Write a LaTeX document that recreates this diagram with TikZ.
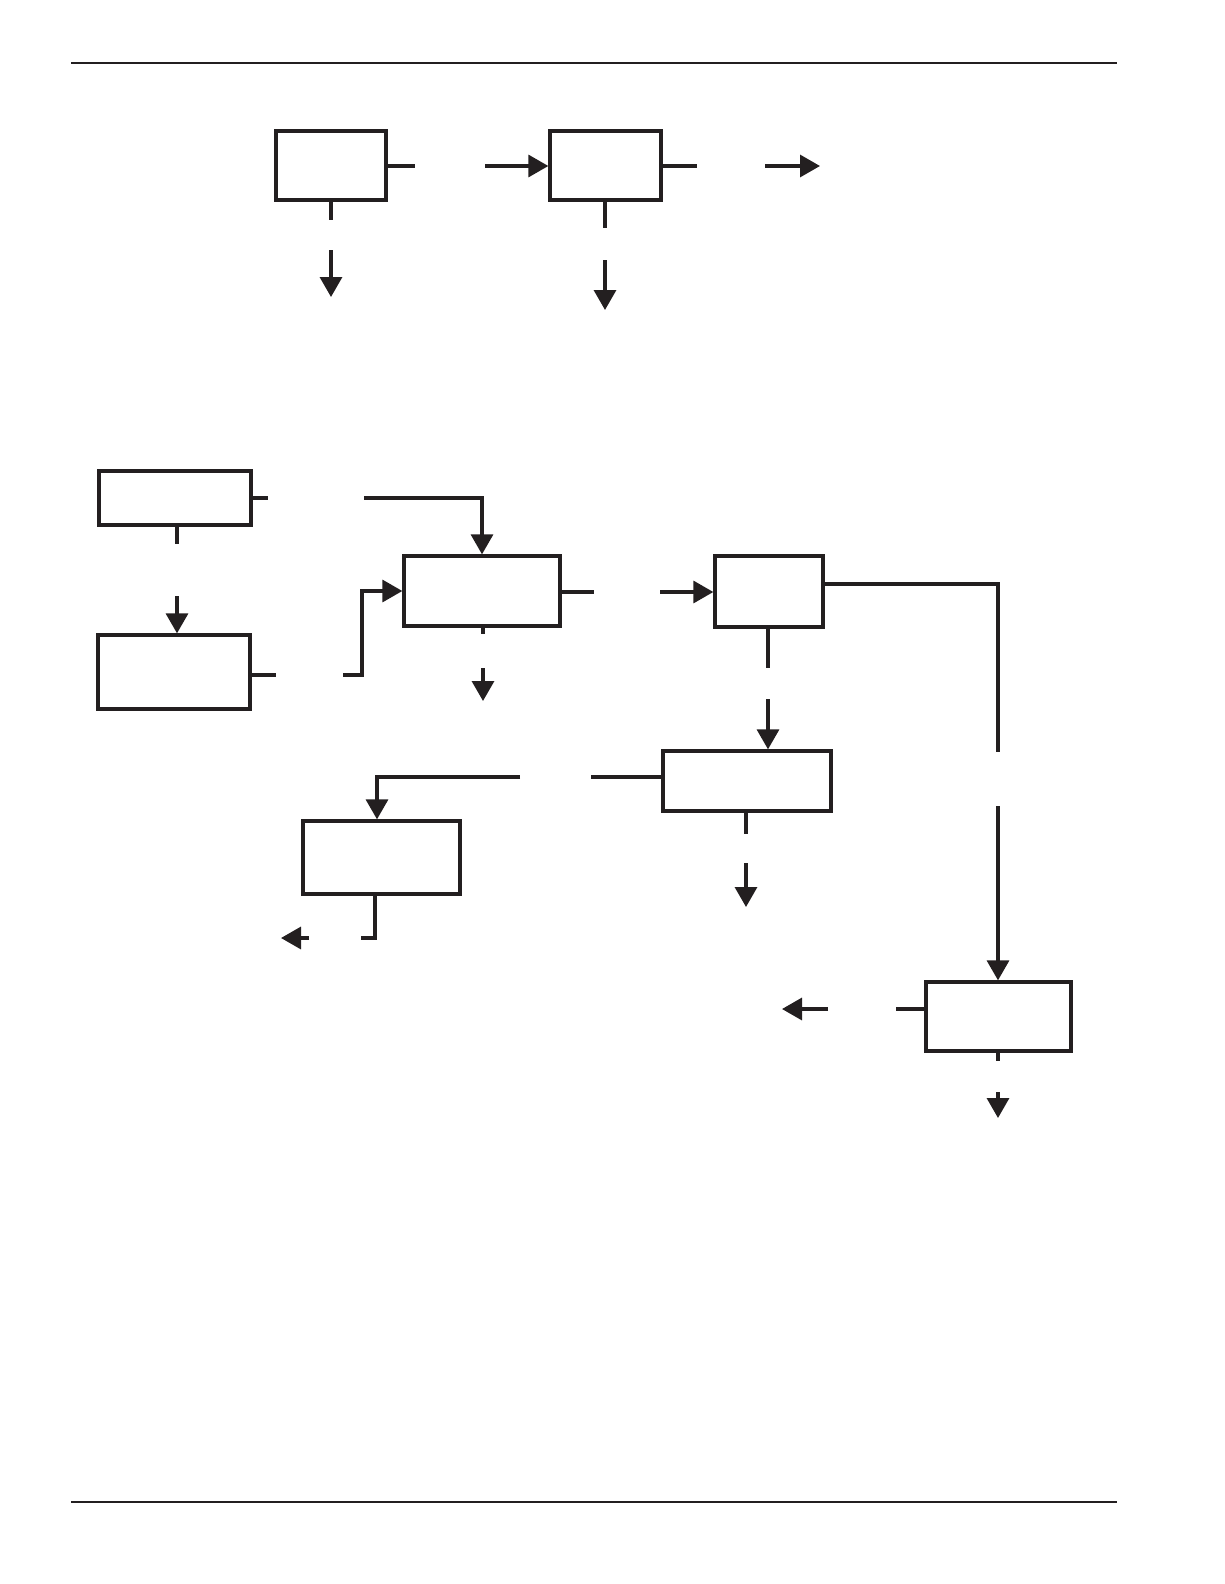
\documentclass[tikz,border=0pt]{standalone}
\usetikzlibrary{arrows.meta}
\definecolor{ink}{RGB}{35,31,32}
\begin{document}
\begin{tikzpicture}[x=1pt,y=-1pt,
  box/.style={draw=ink,line width=3.3pt,rectangle,inner sep=0pt},
  ln/.style={draw=ink,line width=3.3pt},
  arr/.style={draw=ink,line width=3.3pt,-{Triangle[length=20pt,width=22pt]}},
  rule/.style={draw=ink,line width=2pt}]
\useasboundingbox (0,0) rectangle (1224,1584);
% page rules
\coordinate (r1a) at (71,62.6); \coordinate (r1b) at (1117,62.6);
\coordinate (r2a) at (71,1502); \coordinate (r2b) at (1117,1502);
\draw[rule] (r1a) -- (r1b);
\draw[rule] (r2a) -- (r2b);
% boxes
\node[box,minimum width=110pt,minimum height=69pt] (A) at (331,165.5) {};
\node[box,minimum width=111pt,minimum height=69pt] (B) at (605.5,165.5) {};
\node[box,minimum width=152pt,minimum height=54pt] (C) at (175,498) {};
\node[box,minimum width=152pt,minimum height=74pt] (E) at (174,672) {};
\node[box,minimum width=156pt,minimum height=70pt] (D) at (482,591) {};
\node[box,minimum width=108pt,minimum height=71pt] (F) at (769,591.5) {};
\node[box,minimum width=168pt,minimum height=60pt] (G) at (747,781) {};
\node[box,minimum width=157pt,minimum height=73pt] (H) at (381.5,857.5) {};
\node[box,minimum width=145pt,minimum height=69pt] (I) at (998.5,1016.5) {};
% free ends
\coordinate (a1) at (415,166); \coordinate (a2) at (485,166);
\coordinate (a3) at (331,220); \coordinate (a4) at (331,250); \coordinate (a5) at (331,297);
\coordinate (b1) at (697,166); \coordinate (b2) at (765,166); \coordinate (b3) at (820,166);
\coordinate (b4) at (605,228); \coordinate (b5) at (605,260); \coordinate (b6) at (605,310);
\coordinate (c1) at (268,498); \coordinate (c2) at (364,498);
\coordinate (c3) at (177,544); \coordinate (c4) at (177,596);
\coordinate (e1) at (276,675); \coordinate (e2) at (343,675);
\coordinate (d1) at (594,592); \coordinate (d2) at (660,592);
\coordinate (d3) at (483,634); \coordinate (d4) at (483,668); \coordinate (d5) at (483,701);
\coordinate (f0) at (998,584);
\coordinate (f1) at (998,752); \coordinate (f2) at (998,806);
\coordinate (f3) at (768,668); \coordinate (f4) at (768,699);
\coordinate (g1) at (591,777); \coordinate (g2) at (520,777);
\coordinate (g3) at (746,834); \coordinate (g4) at (746,863); \coordinate (g5) at (746,907);
\coordinate (h0) at (375,894);
\coordinate (h1) at (361,938); \coordinate (h2) at (309,938); \coordinate (h3) at (281,938);
\coordinate (i1) at (896,1009); \coordinate (i2) at (828,1009); \coordinate (i3) at (782,1009);
\coordinate (i4) at (998,1061); \coordinate (i5) at (998,1092); \coordinate (i6) at (998,1118);
% top row
\draw[ln] (A.east |- a1) -- (a1);
\draw[arr] (a2) -- (B.west |- a2);
\draw[ln] (A.south -| a3) -- (a3);
\draw[arr] (a4) -- (a5);
\draw[ln] (B.east |- b1) -- (b1);
\draw[arr] (b2) -- (b3);
\draw[ln] (B.south -| b4) -- (b4);
\draw[arr] (b5) -- (b6);
% lower part
\draw[ln] (C.east |- c1) -- (c1);
\draw[arr] (c2) -| (D.north);
\draw[ln] (C.south -| c3) -- (c3);
\draw[arr] (c4) -- (E.north -| c4);
\draw[ln] (E.east |- e1) -- (e1);
\draw[arr] (e2) -- ++(19,0) |- (D.west);
\draw[ln] (D.east |- d1) -- (d1);
\draw[arr] (d2) -- (F.west |- d2);
\draw[ln] (D.south -| d3) -- (d3);
\draw[arr] (d4) -- (d5);
\draw[ln] (F.east |- f0) -| (f1);
\draw[arr] (f2) -- (I.north -| f2);
\draw[ln] (F.south -| f3) -- (f3);
\draw[arr] (f4) -- (G.north -| f4);
\draw[ln] (G.west |- g1) -- (g1);
\draw[arr] (g2) -| ([xshift=-4.5pt]H.north);
\draw[ln] (G.south -| g3) -- (g3);
\draw[arr] (g4) -- (g5);
\draw[ln] (H.south -| h0) |- (h1);
\draw[arr] (h2) -- (h3);
\draw[ln] (I.west |- i1) -- (i1);
\draw[arr] (i2) -- (i3);
\draw[ln] (I.south -| i4) -- (i4);
\draw[arr] (i5) -- (i6);
\end{tikzpicture}
\end{document}
